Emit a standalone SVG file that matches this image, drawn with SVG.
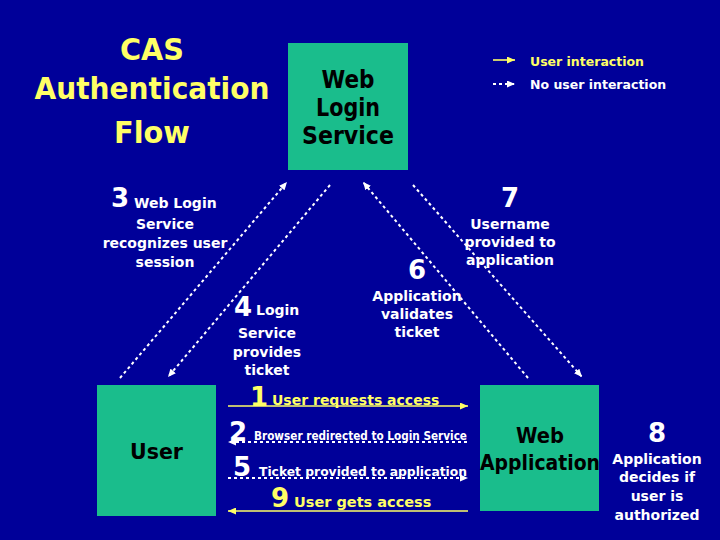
<svg xmlns="http://www.w3.org/2000/svg" width="720" height="540" viewBox="0 0 720 540">
<defs>
<style>
text{font-family:"DejaVu Sans","Liberation Sans",sans-serif;font-weight:bold}
.title{fill:#FFFF66;font-size:31px;text-anchor:middle}
.box{fill:#1ABD8C}
.boxt{fill:#000;text-anchor:middle}
.w{fill:#fff}
.y{fill:#FFFF66}
.num{font-size:26px}
.lbl{font-size:14px}
.c{text-anchor:middle}
.solid{stroke:#FFFF66;stroke-width:1.6;fill:none}
.dash{stroke:#fff;stroke-width:2;stroke-dasharray:3 3;fill:none}
</style>
<marker id="ay" viewBox="0 0 8 7" refX="8" refY="3.5" markerWidth="8" markerHeight="7" markerUnits="userSpaceOnUse" orient="auto-start-reverse"><path d="M0,0 L8,3.5 L0,7 z" fill="#FFFF66"/></marker>
<marker id="aw" viewBox="0 0 8 7" refX="8" refY="3.5" markerWidth="8" markerHeight="7" markerUnits="userSpaceOnUse" orient="auto-start-reverse"><path d="M0,0 L8,3.5 L0,7 z" fill="#fff"/></marker>
</defs>
<rect width="720" height="540" fill="#000099"/>
<g id="title">
<text class="title" x="152" y="60" textLength="64" lengthAdjust="spacingAndGlyphs">CAS</text>
<text class="title" x="152" y="99" textLength="235" lengthAdjust="spacingAndGlyphs">Authentication</text>
<text class="title" x="152" y="143" textLength="76" lengthAdjust="spacingAndGlyphs">Flow</text>
</g>
<g id="legend">
<line class="solid" x1="493" y1="60" x2="515" y2="60" marker-end="url(#ay)"/>
<text class="y" x="530" y="66" font-size="12.5">User interaction</text>
<line class="dash" x1="493" y1="84" x2="515" y2="84" marker-end="url(#aw)"/>
<text class="w" x="530" y="89" font-size="12.5">No user interaction</text>
</g>
<g id="web-login-service">
<rect class="box" x="288" y="43" width="120" height="127"/>
<text class="boxt" x="348" y="88" font-size="24" textLength="53" lengthAdjust="spacingAndGlyphs">Web</text>
<text class="boxt" x="348" y="116" font-size="24" textLength="64" lengthAdjust="spacingAndGlyphs">Login</text>
<text class="boxt" x="348" y="144" font-size="24" textLength="92" lengthAdjust="spacingAndGlyphs">Service</text>
</g>
<g id="user">
<rect class="box" x="97" y="385" width="119" height="131"/>
<text class="boxt" x="156.5" y="459" font-size="22" textLength="53" lengthAdjust="spacingAndGlyphs">User</text>
</g>
<g id="web-application">
<rect class="box" x="480" y="385" width="119" height="126"/>
<text class="boxt" x="540" y="443" font-size="22" textLength="48" lengthAdjust="spacingAndGlyphs">Web</text>
<text class="boxt" x="540" y="470" font-size="21" textLength="120" lengthAdjust="spacingAndGlyphs">Application</text>
</g>
<g id="connectors">
<line class="dash" x1="120" y1="378" x2="287" y2="182" marker-end="url(#aw)"/>
<line class="dash" x1="330" y1="185" x2="168" y2="377" marker-end="url(#aw)"/>
<line class="dash" x1="528" y1="378" x2="363" y2="182" marker-end="url(#aw)"/>
<line class="dash" x1="413" y1="185" x2="582" y2="377" marker-end="url(#aw)"/>
<line class="solid" x1="228" y1="406" x2="468" y2="406" marker-end="url(#ay)"/>
<line class="dash" x1="467" y1="442" x2="228" y2="442" marker-end="url(#aw)"/>
<line class="dash" x1="228" y1="478" x2="468" y2="478" marker-end="url(#aw)"/>
<line class="solid" x1="468" y1="511" x2="228" y2="511" marker-end="url(#ay)"/>
</g>
<g id="step3">
<text class="w num" x="111" y="207">3</text>
<text class="w" x="134" y="208" font-size="14">Web Login</text>
<text class="w c lbl" x="165" y="229">Service</text>
<text class="w c lbl" x="165" y="248">recognizes user</text>
<text class="w c lbl" x="165" y="267">session</text>
</g>
<g id="step4">
<text class="w num" x="234" y="316">4</text>
<text class="w" x="256" y="315" font-size="14">Login</text>
<text class="w c lbl" x="267" y="338">Service</text>
<text class="w c lbl" x="267" y="357">provides</text>
<text class="w c lbl" x="267" y="375">ticket</text>
</g>
<g id="step6">
<text class="w num c" x="417" y="279">6</text>
<text class="w c lbl" x="417" y="301">Application</text>
<text class="w c lbl" x="417" y="319">validates</text>
<text class="w c lbl" x="417" y="337">ticket</text>
</g>
<g id="step7">
<text class="w num c" x="510" y="207">7</text>
<text class="w c lbl" x="510" y="229">Username</text>
<text class="w c lbl" x="510" y="247">provided to</text>
<text class="w c lbl" x="510" y="265">application</text>
</g>
<g id="step1">
<text class="y num" x="250" y="406">1</text>
<text class="y lbl" x="272" y="405">User requests access</text>
</g>
<g id="step2">
<text class="w num" x="229" y="441">2</text>
<text class="w" x="254" y="440" font-size="11.5" textLength="213" lengthAdjust="spacingAndGlyphs">Browser redirected to Login Service</text>
</g>
<g id="step5">
<text class="w num" x="233" y="476">5</text>
<text class="w" x="259" y="476" font-size="13" textLength="208" lengthAdjust="spacingAndGlyphs">Ticket provided to application</text>
</g>
<g id="step9">
<text class="y num" x="271" y="507">9</text>
<text class="y" x="294" y="507" font-size="14.5">User gets access</text>
</g>
<g id="step8">
<text class="w num c" x="657" y="442">8</text>
<text class="w c lbl" x="657" y="464">Application</text>
<text class="w c lbl" x="657" y="482">decides if</text>
<text class="w c lbl" x="657" y="501">user is</text>
<text class="w c lbl" x="657" y="520">authorized</text>
</g>
</svg>
